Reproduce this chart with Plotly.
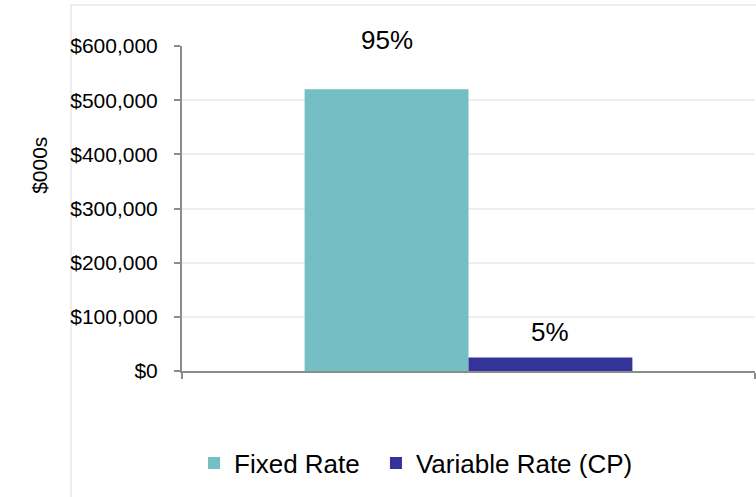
import plotly.graph_objects as go

# Debt mix by rate type ($000s)
category = ["Total Debt"]
series_names = ["Fixed Rate", "Variable Rate (CP)"]
series_values = [520000, 25000]
series_colors = ["#73BFC4", "#333399"]
y_tick_values = [0, 100000, 200000, 300000, 400000, 500000, 600000]

total = sum(series_values)
shares = [f"{round(100 * v / total)}%" for v in series_values]

FONT = "Arial, Liberation Sans, sans-serif"
BARGAP = 0.428

fig = go.Figure()
legend_ids = ["legend", "legend2"]
for name, val, col, lg in zip(series_names, series_values, series_colors, legend_ids):
    fig.add_trace(go.Bar(x=category, y=[val], name=name, marker_color=col,
                         marker_line_width=0, legend=lg))

# percentage labels above each bar
half = (1 - BARGAP) / 4
offsets = [-half, half]
label_lift = [32, 8]
for off, val, txt, lift in zip(offsets, series_values, shares, label_lift):
    fig.add_annotation(x=off, y=val, xref="x", yref="y", text=txt,
                       showarrow=False, yanchor="bottom", yshift=lift,
                       font=dict(family=FONT, size=26, color="#000000"))

# rotated axis title
fig.add_annotation(x=-0.248, y=0.634, xref="paper", yref="paper", text="$000s",
                   textangle=-90, showarrow=False, xanchor="center", yanchor="middle",
                   font=dict(family=FONT, size=21, color="#000000"))

# chart-area frame
fig.add_shape(type="rect", xref="paper", yref="paper", x0=-0.1937, y0=-0.6,
              x1=1.3, y1=1.126, line=dict(color="#ededed", width=2),
              fillcolor="rgba(0,0,0,0)", layer="below")

legend_style = dict(orientation="h", xanchor="left", y=-0.283, yanchor="middle",
                    font=dict(family=FONT, size=26),
                    bgcolor="rgba(0,0,0,0)", borderwidth=0)

fig.update_layout(
    width=756, height=497,
    margin=dict(l=182, r=1, t=46, b=126, autoexpand=False),
    paper_bgcolor="white", plot_bgcolor="white",
    barmode="group", bargap=BARGAP, bargroupgap=0,
    font=dict(family=FONT, color="#000000"),
    showlegend=True,
    legend=dict(x=0.021, **legend_style),
    legend2=dict(x=0.3385, **legend_style),
    xaxis=dict(showticklabels=False, ticks="outside", tickson="boundaries",
               ticklen=6, tickcolor="#8c8c8c", tickwidth=2,
               showline=True, linecolor="#8c8c8c", linewidth=2,
               showgrid=False, range=[-0.5, 0.5], fixedrange=True),
    yaxis=dict(range=[0, 600000], tickvals=y_tick_values, tickformat="$,.0f",
               ticks="outside", ticklen=6, tickcolor="#8c8c8c", tickwidth=2,
               showline=True, linecolor="#8c8c8c", linewidth=2,
               showgrid=True, gridcolor="#eeeeee", gridwidth=2,
               zeroline=False, ticklabelstandoff=12,
               tickfont=dict(family=FONT, size=21, color="#000000")),
)

fig.write_html("out.html")
